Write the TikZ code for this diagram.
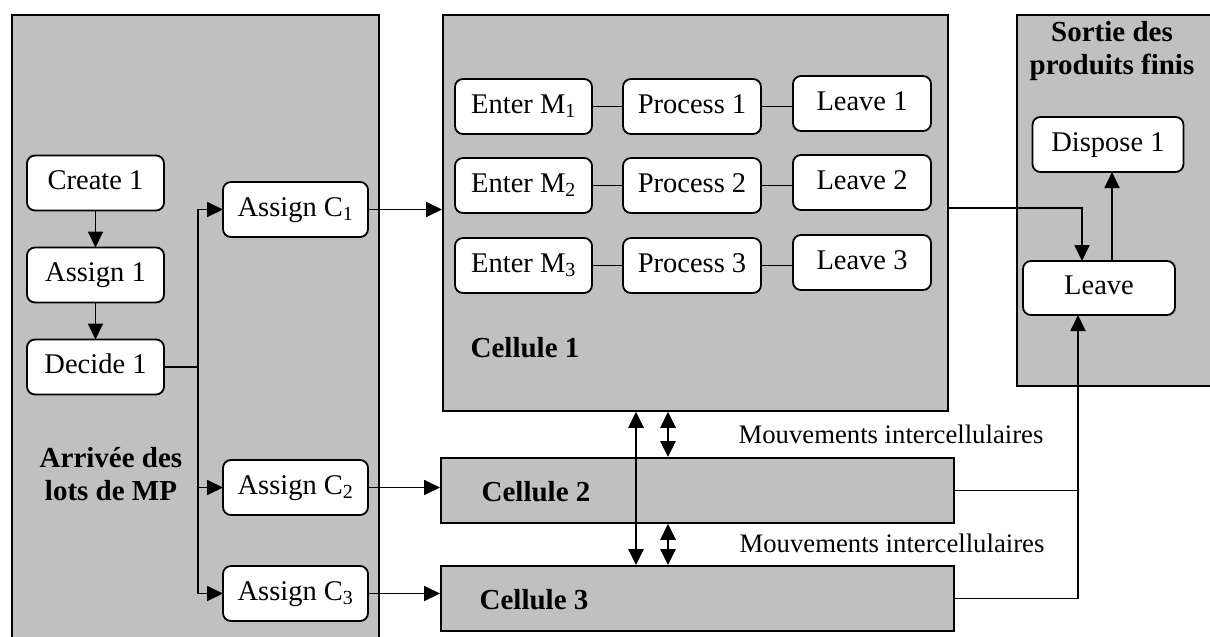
\documentclass[tikz,border=0pt]{standalone}
\usepackage{fontspec}
\setmainfont{Liberation Serif}
\usepackage{xcolor}
\usetikzlibrary{arrows.meta,positioning,calc}
\definecolor{panelgray}{RGB}{192,192,192}

\begin{document}
\begin{tikzpicture}[x=1pt,y=-1pt,
    panel/.style={draw,line width=1.8pt,fill=panelgray,anchor=north west,inner sep=0pt},
    block/.style={draw,line width=1.8pt,fill=white,rounded corners=8pt,minimum height=55pt,
        minimum width=137pt,inner sep=0pt,outer sep=0pt,text height=19pt,text depth=6pt,
        font=\fontsize{28.5}{31}\selectfont},
    flow/.style={line width=1.8pt,-{Triangle[length=16pt,width=15pt]}},
    link/.style={line width=1.8pt},
    swap/.style={line width=2.8pt,{Triangle[length=16pt,width=15pt]}-{Triangle[length=16pt,width=15pt]}},
    title/.style={font=\bfseries\fontsize{29}{33}\selectfont,align=center},
    note/.style={font=\fontsize{26.7}{29}\selectfont}]
    \useasboundingbox (0,0) rectangle (1210,637);

    % Panels
    \node[panel,minimum width=367pt,minimum height=640pt] (arrival) at (11,14) {};
    \node[panel,minimum width=505pt,minimum height=396pt] (cell1) at (442,14) {};
    \node[panel,minimum width=513pt,minimum height=65pt] (cell2) at (440,457) {};
    \node[panel,minimum width=513pt,minimum height=65pt] (cell3) at (440,565) {};
    \node[panel,minimum width=220pt,minimum height=371pt] (exit) at (1016,14) {};

    % Arrival of lots
    \node[block] (create) at (95.5,183) {Create 1};
    \node[block,below=37pt of create] (assign) {Assign 1};
    \node[block,below=37pt of assign] (decide) {Decide 1};
    \node[block,minimum width=145pt] (asc1) at (295.5,209.5) {Assign C\textsubscript{1}};
    \node[block,minimum width=145pt] (asc2) at (295.5,487.5) {Assign C\textsubscript{2}};
    \node[block,minimum width=145pt] (asc3) at (295.5,593.5) {Assign C\textsubscript{3}};
    \node[title] (arrivallabel) at (111,474) {Arriv\'ee des\\lots de MP};

    \draw[flow] (create) -- (assign);
    \draw[flow] (assign) -- (decide);
    \coordinate (fork) at ($(decide.east)+(34pt,0)$);
    \draw[link] (decide.east) -- (fork);
    \foreach \k in {1,2,3}
        \draw[flow] (fork) |- (asc\k.west);

    % Cell 1 machines
    \foreach \i/\y in {1/106.5,2/185.5,3/265.5}{
        \node[block] (enter\i) at (523.5,\y) {Enter M\textsubscript{\i}};
        \node[block,minimum width=138pt] (process\i) at (692,\y) {Process \i};
        \node[block,minimum width=138pt] (leave\i) at (862,\y-3) {Leave \i};
        \draw[link] (enter\i) -- (process\i);
        \draw[link] (process\i.east) -- (process\i.east -| leave\i.west);
    }
    \node[title] (cell1label) at (525,348) {Cellule 1};
    \node[title] (cell2label) at (536,492) {Cellule 2};
    \node[title] (cell3label) at (534,600) {Cellule 3};

    \draw[flow] (asc1.east) -- (asc1.east -| cell1.west);
    \draw[flow] (asc2.east) -- (asc2.east -| cell2.west);
    \draw[flow] (asc3.east) -- (asc3.east -| cell3.west);

    % Intercellular moves
    \coordinate (laneA) at (636,0);
    \coordinate (laneB) at (668,0);
    \draw[swap] (cell1.south -| laneA) -- (cell3.north -| laneA);
    \draw[swap] (cell1.south -| laneB) -- (cell2.north -| laneB);
    \draw[swap] (cell2.south -| laneB) -- (cell3.north -| laneB);
    \node[note] (move1) at (891,434) {Mouvements intercellulaires};
    \node[note] (move2) at (892,543) {Mouvements intercellulaires};

    % Finished products
    \node[title] (exitlabel) at (1112,51) {Sortie des\\produits finis};
    \node[block,minimum width=151pt] (dispose) at (1108,144.5) {Dispose 1};
    \node[block,minimum width=152pt,minimum height=54pt] (leave) at (1099,288) {Leave};
    \draw[flow] ([xshift=13pt]leave.north) -- ([xshift=13pt]leave.north |- dispose.south);
    \draw[flow] ([yshift=5pt]cell1.east) -| ([xshift=-17pt]leave.north);
    \coordinate (merge) at ([xshift=-21pt]leave.south);
    \draw[link] (cell2.east) -- (cell2.east -| merge);
    \draw[flow] (cell3.east) -| (merge);
\end{tikzpicture}
\end{document}
